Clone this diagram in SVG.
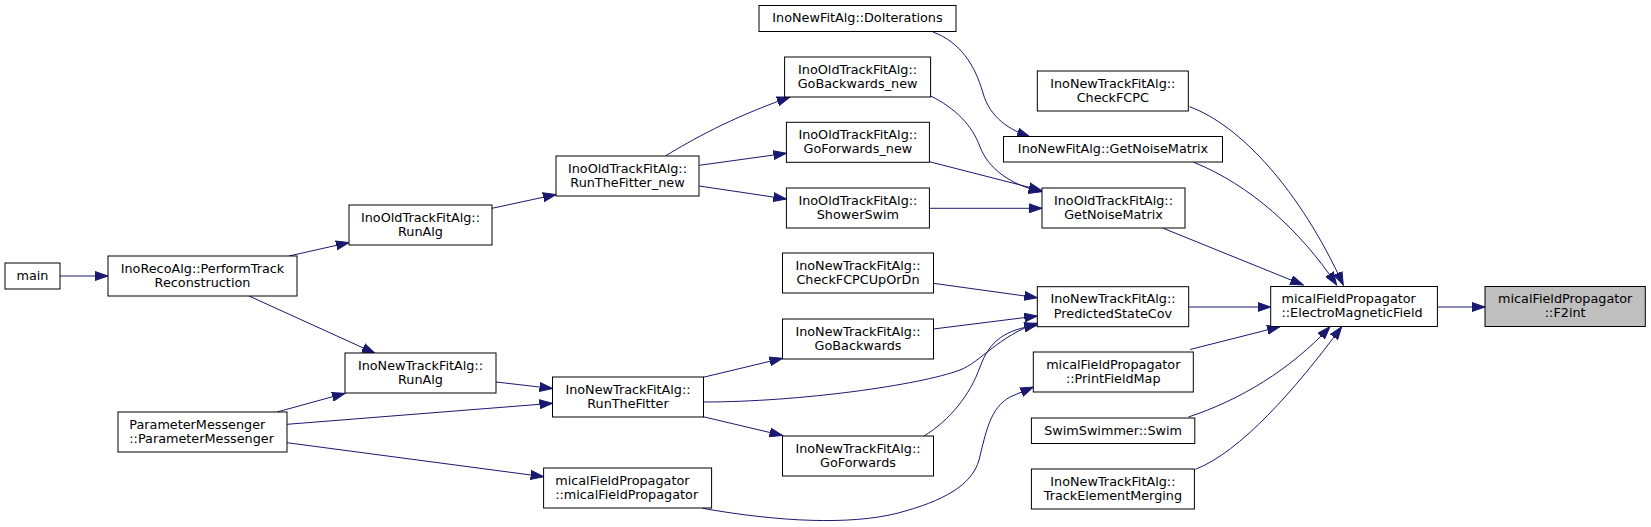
<svg xmlns="http://www.w3.org/2000/svg" width="1651" height="527" viewBox="0 0 1651 527">
<style>
.n rect{fill:#ffffff;stroke:#000000;stroke-width:1}
.n.sel rect{fill:#bfbfbf}
.n text{font-family:"DejaVu Sans","Liberation Sans",sans-serif;font-size:12.8px;fill:#000000}
.c{text-anchor:middle}
.e path{fill:none;stroke:#191970;stroke-width:1;marker-end:url(#ah)}
</style>
<defs>
<marker id="ah" markerUnits="userSpaceOnUse" markerWidth="14" markerHeight="10" refX="13" refY="5" orient="auto">
<path d="M0,0.5 L13,5 L0,9.5 z" fill="#191970" stroke="#191970" stroke-width="1"/>
</marker>
</defs>
<rect x="0" y="0" width="1651" height="527" fill="#ffffff"/>
<g id="edges" class="e">
<path d="M60,276 L108,276"/>
<path d="M289,256 L349,242.5"/>
<path d="M249,296 L375,353.3"/>
<path d="M492,208.3 L556,194.5"/>
<path d="M496,382 L552.5,388.5"/>
<path d="M277,412 L345,393.3"/>
<path d="M287,424.3 L552.5,403.3"/>
<path d="M287,442.7 L543.6,476.7"/>
<path d="M665.7,155.7 C692,140 728,119 790,97"/>
<path d="M699.3,165.3 L786.4,153.3"/>
<path d="M699.3,186 L786.4,199"/>
<path d="M703.2,377.3 L782.5,358.3"/>
<path d="M703.2,416.7 L782.5,435.5"/>
<path d="M933,32 C960,42 975,65 983,93 C990,118 1010,130 1030,137"/>
<path d="M930.7,96 C955,108 972,125 980,146.7 C988,168 1010,185 1041.7,191.7"/>
<path d="M929.3,161.7 L1041.7,190.5"/>
<path d="M929.3,208.3 L1042,208.3"/>
<path d="M933.3,283.3 L1037.3,297.7"/>
<path d="M933.3,329 L1037.3,316"/>
<path d="M703,402 C800,402 920,385 960,370 C980,362.5 1000,335 1037.3,323.3"/>
<path d="M924,436 C950,420 970,395 980,367 C990,340 1005,330 1037.3,325"/>
<path d="M702.5,508.3 C780,522 850,525 897,513.3 C944,501 972,485 979,460 C986,432 990,408 1010,397 L1033.3,387"/>
<path d="M1188.7,307 L1270.7,307"/>
<path d="M1190,349.5 L1280,326.7"/>
<path d="M1188.4,417 C1240,400 1290,370 1330,326.7"/>
<path d="M1195.5,469.3 C1240,452 1295,390 1341.7,326.7"/>
<path d="M1163.3,228.3 L1303.3,285"/>
<path d="M1193.8,162.3 C1250,185 1300,230 1336.7,285"/>
<path d="M1189.5,106.7 C1240,125 1300,190 1343.3,285"/>
<path d="M1437.4,307 L1485,307"/>
</g>
<g id="n_main" class="n"><rect x="5" y="263" width="55" height="26"/><text class="c" x="32.5" y="279.5">main</text></g>
<g id="n_perform" class="n"><rect x="108" y="256" width="189" height="40"/><text class="c" x="202.5" y="272.6">InoRecoAlg::PerformTrack</text><text class="c" x="202.5" y="286.8">Reconstruction</text></g>
<g id="n_oldrunalg" class="n"><rect x="349" y="205" width="143" height="40"/><text class="c" x="420.5" y="221.6">InoOldTrackFitAlg::</text><text class="c" x="420.5" y="235.8">RunAlg</text></g>
<g id="n_newrunalg" class="n"><rect x="345" y="353" width="151" height="40"/><text class="c" x="420.5" y="369.6">InoNewTrackFitAlg::</text><text class="c" x="420.5" y="383.8">RunAlg</text></g>
<g id="n_parammsg" class="n"><rect x="118" y="412" width="169" height="40"/><text x="129.3" y="428.6">ParameterMessenger</text><text x="129.3" y="442.8">::ParameterMessenger</text></g>
<g id="n_rtf_new" class="n"><rect x="556" y="156" width="143" height="40"/><text class="c" x="627.5" y="172.6">InoOldTrackFitAlg::</text><text class="c" x="627.5" y="186.8">RunTheFitter_new</text></g>
<g id="n_rtf" class="n"><rect x="552.5" y="377" width="151" height="40"/><text class="c" x="628" y="393.6">InoNewTrackFitAlg::</text><text class="c" x="628" y="407.8">RunTheFitter</text></g>
<g id="n_micalfp" class="n"><rect x="543.6" y="468" width="168" height="40"/><text x="555.2" y="484.6">micalFieldPropagator</text><text x="555.2" y="498.8">::micalFieldPropagator</text></g>
<g id="n_doiter" class="n"><rect x="759" y="5.5" width="197" height="26"/><text class="c" x="857.5" y="22">InoNewFitAlg::DoIterations</text></g>
<g id="n_gobw_new" class="n"><rect x="784.6" y="57" width="146" height="40"/><text class="c" x="857.6" y="73.6">InoOldTrackFitAlg::</text><text class="c" x="857.6" y="87.8">GoBackwards_new</text></g>
<g id="n_gofw_new" class="n"><rect x="786.4" y="122.3" width="143" height="40"/><text class="c" x="857.9" y="138.9">InoOldTrackFitAlg::</text><text class="c" x="857.9" y="153.1">GoForwards_new</text></g>
<g id="n_shower" class="n"><rect x="786.4" y="188" width="143" height="40"/><text class="c" x="857.9" y="204.6">InoOldTrackFitAlg::</text><text class="c" x="857.9" y="218.8">ShowerSwim</text></g>
<g id="n_checkupdn" class="n"><rect x="782.5" y="253" width="151" height="40"/><text class="c" x="858" y="269.6">InoNewTrackFitAlg::</text><text class="c" x="858" y="283.8">CheckFCPCUpOrDn</text></g>
<g id="n_gobw" class="n"><rect x="782.5" y="319" width="151" height="40"/><text class="c" x="858" y="335.6">InoNewTrackFitAlg::</text><text class="c" x="858" y="349.8">GoBackwards</text></g>
<g id="n_gofw" class="n"><rect x="782.5" y="436" width="151" height="40"/><text class="c" x="858" y="452.6">InoNewTrackFitAlg::</text><text class="c" x="858" y="466.8">GoForwards</text></g>
<g id="n_checkfcpc" class="n"><rect x="1037.3" y="71" width="151" height="40"/><text class="c" x="1112.8" y="87.6">InoNewTrackFitAlg::</text><text class="c" x="1112.8" y="101.8">CheckFCPC</text></g>
<g id="n_newgnm" class="n"><rect x="1003.5" y="136.5" width="219" height="25.5"/><text class="c" x="1113" y="153">InoNewFitAlg::GetNoiseMatrix</text></g>
<g id="n_oldgnm" class="n"><rect x="1042" y="188" width="143" height="40"/><text class="c" x="1113.5" y="204.6">InoOldTrackFitAlg::</text><text class="c" x="1113.5" y="218.8">GetNoiseMatrix</text></g>
<g id="n_psc" class="n"><rect x="1037.3" y="286.7" width="151.4" height="40"/><text class="c" x="1113" y="303.3">InoNewTrackFitAlg::</text><text class="c" x="1113" y="317.5">PredictedStateCov</text></g>
<g id="n_printfm" class="n"><rect x="1033.3" y="352" width="160" height="40"/><text class="c" x="1113.3" y="368.6">micalFieldPropagator</text><text class="c" x="1113.3" y="382.8">::PrintFieldMap</text></g>
<g id="n_swim" class="n"><rect x="1031.4" y="418" width="163.4" height="25.5"/><text class="c" x="1113.1" y="434.5">SwimSwimmer::Swim</text></g>
<g id="n_tme" class="n"><rect x="1031.4" y="469" width="163" height="40"/><text class="c" x="1112.9" y="485.6">InoNewTrackFitAlg::</text><text class="c" x="1112.9" y="499.8">TrackElementMerging</text></g>
<g id="n_emf" class="n"><rect x="1270.7" y="286.5" width="166.7" height="40"/><text x="1281.5" y="303.1">micalFieldPropagator</text><text x="1281.5" y="317.3">::ElectroMagneticField</text></g>
<g id="n_f2int" class="n sel"><rect x="1485" y="286.5" width="160.3" height="40"/><text class="c" x="1565.2" y="303.1">micalFieldPropagator</text><text class="c" x="1565.2" y="317.3">::F2int</text></g>
</svg>
